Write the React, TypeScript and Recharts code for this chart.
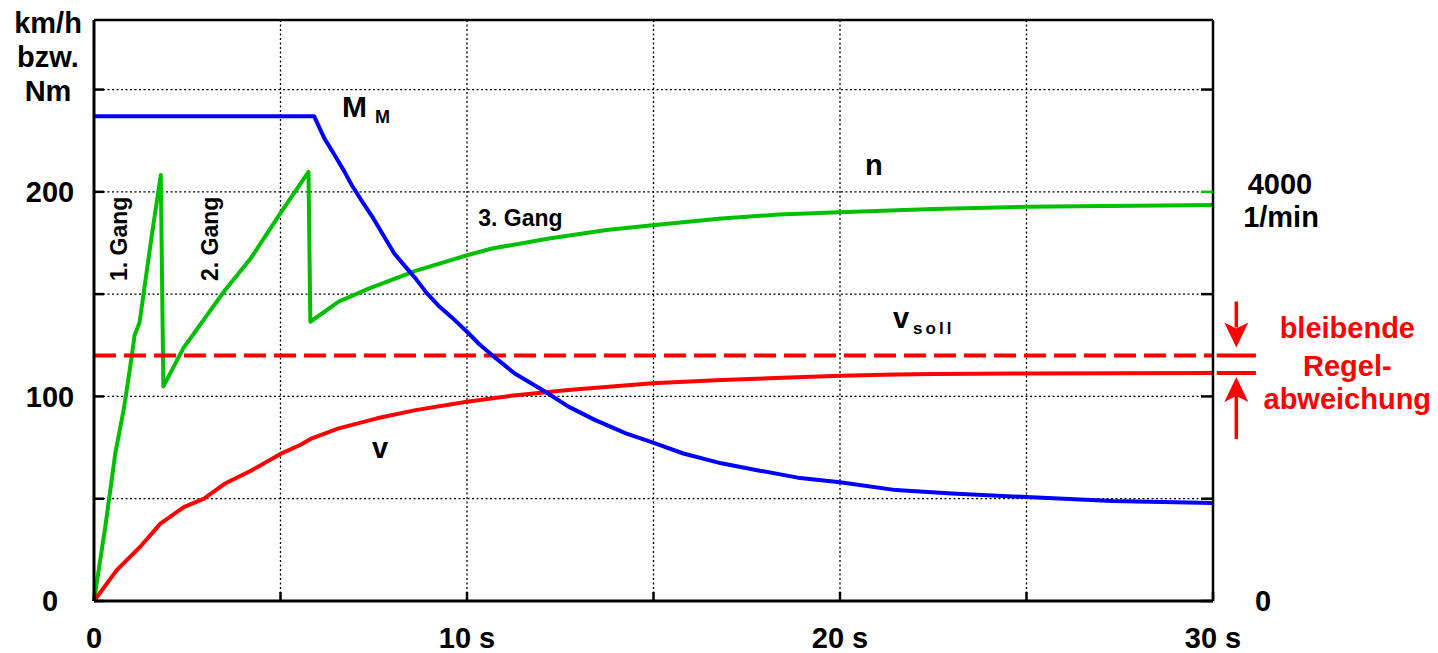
import {
  LineChart,
  Line,
  XAxis,
  YAxis,
  CartesianGrid,
  ReferenceLine,
  ReferenceDot,
} from "recharts";

const FONT = "'Liberation Sans', Arial, Helvetica, sans-serif";
const BLUE = "#0000ff";
const GREEN = "#00bf00";
const RED = "#ff0000";

// Motormoment M_M in Nm
const torqueTime = [0, 5.9, 6.18, 6.45, 6.71, 6.92, 7.2, 7.49, 7.75, 8.05, 8.33, 8.62, 8.92, 9.23, 9.6, 10, 10.33, 10.67, 11.28, 12.1, 12.72, 13.44, 14.26, 14.97, 15.8, 16.82, 17.85, 18.87, 20, 21.5, 23, 25, 27.3, 30];
const torqueValues = [237, 237, 226, 218, 210, 203, 195, 187, 179, 169.9, 163.8, 157.7, 150.5, 144.5, 138.5, 131.6, 125.5, 120.2, 111.2, 102.3, 95, 88.4, 81.9, 77.5, 72.1, 67.3, 63.7, 60.3, 58, 54.2, 52.6, 50.8, 48.9, 47.9];

// Fahrgeschwindigkeit v in km/h
const speedTime = [0, 0.61, 1.24, 1.78, 2.41, 2.95, 3.5, 4.22, 5, 5.54, 5.84, 6.56, 7.59, 8.62, 10, 11.18, 12.72, 14.97, 16.82, 20, 21.5, 22.5, 25, 30];
const speedValues = [0, 15.1, 26.5, 37.8, 45.9, 50, 57.3, 63.8, 71.9, 76.4, 79.5, 84.4, 89.3, 93.3, 97.4, 100.3, 103.1, 106.4, 108, 110.1, 110.7, 110.9, 111.2, 111.4];

// Motordrehzahl n in 1/min, geschaltet wird bei ca. 1,8 s und 5,8 s
const rpmTime = [0, 0.3, 0.57, 0.8, 0.95, 1.09, 1.22, 1.54, 1.79, 1.86, 2.4, 3.49, 4.21, 5.03, 5.75, 5.8, 6.56, 7.38, 8.62, 10, 10.67, 12.2, 13.74, 14.97, 16.82, 18.36, 20, 22.5, 25, 30];
const rpmValues = [0, 720, 1440, 1880, 2240, 2600, 2720, 3550, 4164, 2098, 2474, 3028, 3354, 3810, 4196, 2730, 2926, 3056, 3228, 3380, 3446, 3544, 3626, 3674, 3740, 3778, 3800, 3832, 3854, 3872];

// Sollgeschwindigkeit v_soll in km/h
const targetSpeed = 120;

const timeTicks = [0, 5, 10, 15, 20, 25, 30];
const timeLabels: Record<number, string> = { 0: "0", 10: "10 s", 20: "20 s", 30: "30 s" };
const leftTicks = [0, 50, 100, 150, 200, 250];
const leftLabels: Record<number, string> = { 0: "0", 100: "100", 200: "200" };
const rpmTicks = [0, 1000, 2000, 3000, 4000, 5000];

// 4000 1/min liegt auf der 200er-Linie
const leftMax = 284;
const rpmMax = leftMax * 20;

const torqueData = torqueTime.map((t, i) => ({ t, y: torqueValues[i] }));
const speedData = speedTime.map((t, i) => ({ t, y: speedValues[i] }));
const rpmData = rpmTime.map((t, i) => ({ t, y: rpmValues[i] }));
const targetData = [
  { t: 0, y: targetSpeed },
  { t: 30, y: targetSpeed },
];
const finalSpeed = speedValues[speedValues.length - 1];

const textStyle = { fontFamily: FONT, fontWeight: 700 } as const;

const TimeTick = (props: any) => {
  const { x, y, payload } = props;
  const label = timeLabels[payload.value];
  return (
    <g>
      <line x1={x} x2={x} y1={y} y2={y - 9} stroke="#000" strokeWidth={2.5} />
      {label && (
        <text x={x} y={y + 47} textAnchor="middle" fontSize={29} fill="#000" style={textStyle}>
          {label}
        </text>
      )}
    </g>
  );
};

const LeftTick = (props: any) => {
  const { x, y, payload } = props;
  const label = leftLabels[payload.value];
  return (
    <g>
      <line x1={x} x2={x + 10} y1={y} y2={y} stroke="#000" strokeWidth={2.5} />
      {label && (
        <text x={x - 44} y={y} dy="0.36em" textAnchor="middle" fontSize={29} fill="#000" style={textStyle}>
          {label}
        </text>
      )}
    </g>
  );
};

const RpmTick = (props: any) => {
  const { x, y, payload } = props;
  const v = payload.value;
  return (
    <g>
      <line x1={x - 12} x2={x} y1={y} y2={y} stroke={v === 4000 ? GREEN : "#000"} strokeWidth={2.5} />
      {v === 0 && (
        <text x={x + 50} y={y} dy="0.36em" textAnchor="middle" fontSize={29} fill="#000" style={textStyle}>
          0
        </text>
      )}
      {v === 4000 && (
        <text textAnchor="middle" fontSize={29} fill="#000" style={textStyle}>
          <tspan x={x + 67} y={y + 2}>4000</tspan>
          <tspan x={x + 68} y={y + 35}>1/min</tspan>
        </text>
      )}
    </g>
  );
};

const AxisTitle = (props: any) => {
  const { x, y } = props.viewBox;
  return (
    <text textAnchor="middle" fontSize={29} fill="#000" style={textStyle}>
      <tspan x={x + 14} y={y + 13}>km/h</tspan>
      <tspan x={x + 14} y={y + 47}>bzw.</tspan>
      <tspan x={x + 14} y={y + 81}>Nm</tspan>
    </text>
  );
};

// Beschriftungen an den Kurven, verankert in Datenkoordinaten
const CurveTag = (render: (x: number, y: number) => any) => (props: any) => {
  const { x, y } = props.viewBox;
  return render(x, y);
};

const TargetMarker = (props: any) => {
  const { x, y, width } = props.viewBox;
  const cx = x + width / 2;
  return (
    <g>
      <line x1={cx} x2={cx} y1={y - 54} y2={y - 28} stroke={RED} strokeWidth={3.5} />
      <polygon points={`${cx - 12},${y - 33} ${cx},${y - 27} ${cx + 12},${y - 33} ${cx},${y - 8}`} fill={RED} />
      <text textAnchor="middle" fontSize={29} fill={RED} style={textStyle}>
        <tspan x={cx + 111} y={y - 18}>bleibende</tspan>
        <tspan x={cx + 111} y={y + 20}>Regel-</tspan>
        <tspan x={cx + 111} y={y + 53}>abweichung</tspan>
      </text>
    </g>
  );
};

const SpeedMarker = (props: any) => {
  const { x, y, width } = props.viewBox;
  const cx = x + width / 2;
  return (
    <g>
      <line x1={cx} x2={cx} y1={y + 22} y2={y + 66} stroke={RED} strokeWidth={3.5} />
      <polygon points={`${cx - 12},${y + 29} ${cx},${y + 23} ${cx + 12},${y + 29} ${cx},${y + 4}`} fill={RED} />
    </g>
  );
};

const lineProps = {
  type: "linear" as const,
  dataKey: "y",
  dot: false,
  activeDot: false,
  strokeWidth: 4,
  strokeLinejoin: "round" as const,
  isAnimationActive: false,
};

const hidden = { r: 0, fill: "none", stroke: "none", ifOverflow: "visible" as const };

export default function App() {
  return (
    <div style={{ position: "absolute", left: 0, top: 0, width: 1438, height: 653, background: "#fff" }}>
      <LineChart width={1438} height={653} margin={{ top: 20, right: 125, bottom: 12, left: 34 }}>
        <CartesianGrid yAxisId="left" stroke="#000" strokeWidth={1.3} strokeDasharray="2 2.5" />
        <XAxis
          dataKey="t"
          type="number"
          domain={[0, 30]}
          ticks={timeTicks}
          interval={0}
          height={40}
          tickSize={0}
          tickMargin={0}
          tickLine={false}
          axisLine={{ stroke: "#000", strokeWidth: 3 }}
          tick={TimeTick}
        />
        <YAxis
          yAxisId="left"
          type="number"
          domain={[0, leftMax]}
          ticks={leftTicks}
          interval={0}
          width={60}
          tickSize={0}
          tickMargin={0}
          tickLine={false}
          axisLine={{ stroke: "#000", strokeWidth: 3 }}
          tick={LeftTick}
          label={AxisTitle}
        />
        <YAxis
          yAxisId="rpm"
          orientation="right"
          type="number"
          domain={[0, rpmMax]}
          ticks={rpmTicks}
          interval={0}
          width={100}
          tickSize={0}
          tickMargin={0}
          tickLine={false}
          axisLine={{ stroke: "#000", strokeWidth: 2.5 }}
          tick={RpmTick}
        />
        <ReferenceLine yAxisId="left" y={leftMax} stroke="#000" strokeWidth={2.5} />

        <Line {...lineProps} yAxisId="rpm" data={rpmData} stroke={GREEN} />
        <Line {...lineProps} yAxisId="left" data={speedData} stroke={RED} />
        <Line {...lineProps} yAxisId="left" data={targetData} stroke={RED} strokeDasharray="22 8" />
        <Line {...lineProps} yAxisId="left" data={torqueData} stroke={BLUE} />

        <ReferenceLine
          yAxisId="left"
          ifOverflow="visible"
          segment={[{ x: 30.1, y: targetSpeed }, { x: 31.15, y: targetSpeed }]}
          stroke={RED}
          strokeWidth={4}
          label={TargetMarker}
        />
        <ReferenceLine
          yAxisId="left"
          ifOverflow="visible"
          segment={[{ x: 30.1, y: finalSpeed }, { x: 31.15, y: finalSpeed }]}
          stroke={RED}
          strokeWidth={4}
          label={SpeedMarker}
        />

        <ReferenceDot
          yAxisId="left" x={6.65} y={236.7} {...hidden}
          label={CurveTag((x, y) => (
            <text x={x} y={y} fontSize={30} fill="#000" style={textStyle}>
              M<tspan dx={8} dy={6} fontSize={18}>M</tspan>
            </text>
          ))}
        />
        <ReferenceDot
          yAxisId="left" x={20.67} y={208.3} {...hidden}
          label={CurveTag((x, y) => (
            <text x={x} y={y} fontSize={29} fill="#000" style={textStyle}>n</text>
          ))}
        />
        <ReferenceDot
          yAxisId="left" x={21.42} y={133.5} {...hidden}
          label={CurveTag((x, y) => (
            <text x={x} y={y} fontSize={29} fill="#000" style={textStyle}>
              v<tspan dx={4} dy={6} fontSize={17} letterSpacing={3}>soll</tspan>
            </text>
          ))}
        />
        <ReferenceDot
          yAxisId="left" x={7.45} y={69.9} {...hidden}
          label={CurveTag((x, y) => (
            <text x={x} y={y} fontSize={29} fill="#000" style={textStyle}>v</text>
          ))}
        />
        <ReferenceDot
          yAxisId="left" x={10.3} y={183.4} {...hidden}
          label={CurveTag((x, y) => (
            <text x={x} y={y} fontSize={23} fill="#000" style={textStyle}>3. Gang</text>
          ))}
        />
        <ReferenceDot
          yAxisId="left" x={0.885} y={177} {...hidden}
          label={CurveTag((x, y) => (
            <text x={x} y={y} fontSize={23} fill="#000" textAnchor="middle" transform={`rotate(-90 ${x} ${y})`} style={textStyle}>
              1. Gang
            </text>
          ))}
        />
        <ReferenceDot
          yAxisId="left" x={3.32} y={177} {...hidden}
          label={CurveTag((x, y) => (
            <text x={x} y={y} fontSize={23} fill="#000" textAnchor="middle" transform={`rotate(-90 ${x} ${y})`} style={textStyle}>
              2. Gang
            </text>
          ))}
        />
      </LineChart>
    </div>
  );
}
